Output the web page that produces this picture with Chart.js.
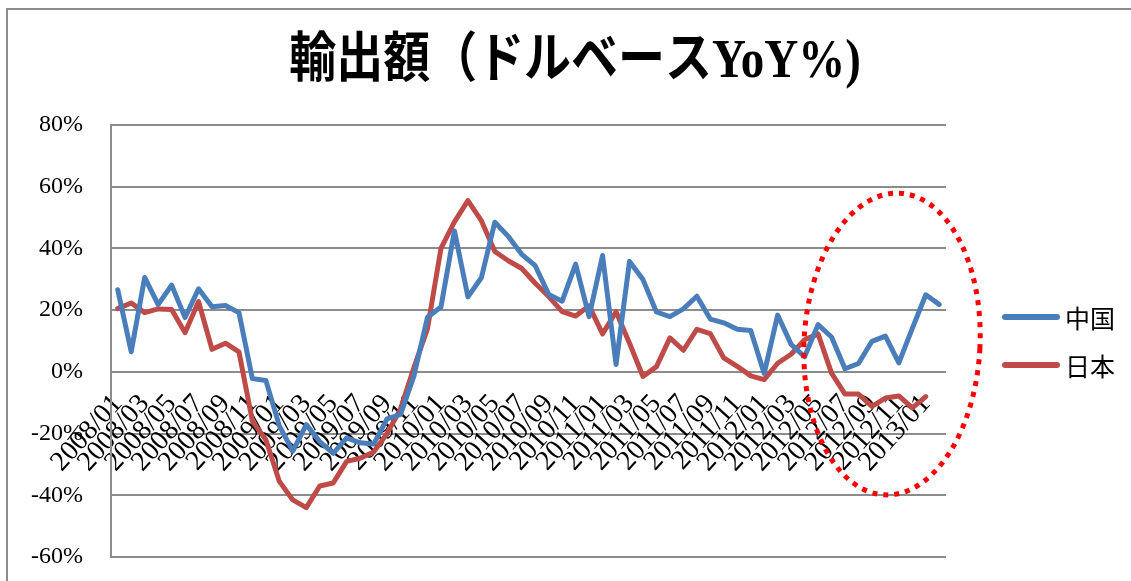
<!DOCTYPE html>
<html lang="ja">
<head>
<meta charset="utf-8">
<title>輸出額（ドルベースYoY%）</title>
<script src="https://cdn.jsdelivr.net/npm/chart.js@4.4.0/dist/chart.umd.min.js"></script>
<style>
    html, body { margin: 0; padding: 0; background: #fff; }
    #chartBox { position: relative; width: 1131px; height: 581px; }
</style>
</head>
<body>
<div id="chartBox"><canvas id="exportChart"></canvas></div>
<script>
// 月次（2008/01〜2013/02）
const months = [
    '2008/01', '2008/02', '2008/03', '2008/04', '2008/05', '2008/06', '2008/07', '2008/08', '2008/09', '2008/10', '2008/11', '2008/12',
    '2009/01', '2009/02', '2009/03', '2009/04', '2009/05', '2009/06', '2009/07', '2009/08', '2009/09', '2009/10', '2009/11', '2009/12',
    '2010/01', '2010/02', '2010/03', '2010/04', '2010/05', '2010/06', '2010/07', '2010/08', '2010/09', '2010/10', '2010/11', '2010/12',
    '2011/01', '2011/02', '2011/03', '2011/04', '2011/05', '2011/06', '2011/07', '2011/08', '2011/09', '2011/10', '2011/11', '2011/12',
    '2012/01', '2012/02', '2012/03', '2012/04', '2012/05', '2012/06', '2012/07', '2012/08', '2012/09', '2012/10', '2012/11', '2012/12',
    '2013/01', '2013/02'
];

// 中国 輸出額 前年比（%）
const chinaYoY = [
    26.6, 6.5, 30.6, 21.8, 28.1, 17.6, 26.9, 21.1, 21.5, 19.2, -2.2, -2.8,
    -17.5, -25.7, -17.1, -22.6, -26.4, -21.4, -23.0, -23.4, -15.2, -13.8, -1.2, 17.7,
    21.0, 45.7, 24.3, 30.5, 48.5, 43.9, 38.1, 34.4, 25.1, 22.9, 34.9, 17.9,
    37.7, 2.4, 35.8, 29.9, 19.4, 17.9, 20.4, 24.5, 17.1, 15.9, 13.8, 13.4,
    -0.5, 18.4, 8.9, 4.9, 15.3, 11.3, 1.0, 2.7, 9.9, 11.6, 2.9, 14.1,
    25.0, 21.8
];

// 日本 輸出額 前年比（%）、2013/01まで
const japanYoY = [
    20.5, 22.3, 19.2, 20.4, 20.2, 12.7, 22.8, 7.3, 9.3, 6.5, -16.0, -22.0,
    -35.5, -41.5, -44.0, -37.0, -36.0, -29.0, -28.0, -26.0, -20.0, -12.0, 1.5, 14.0,
    40.0, 48.6, 55.5, 49.0, 39.0, 36.0, 33.5, 28.7, 24.4, 19.5, 18.1, 21.4,
    12.3, 19.5, 9.3, -1.5, 1.7, 11.0, 7.0, 13.8, 12.4, 4.5, 1.8, -1.3,
    -2.5, 2.8, 5.7, 10.4, 12.3, -0.4, -7.2, -7.2, -11.2, -8.5, -7.8, -11.7,
    -8.0
];

// 縦軸の範囲と目盛り
const yMin = -60;
const yMax = 80;
const yStep = 20;

const seriesNames = ['中国', '日本'];
const seriesColors = ['#4a7ebb', '#be4b48'];

const gridGray = '#8c8c8c';
const serifFont = '"Liberation Serif", "Times New Roman", serif';

// 枠・タイトル・凡例・強調の楕円
const decorPlugin = {
    id: 'decor',
    beforeDraw(chart) {
        const ctx = chart.ctx;
        ctx.save();
        ctx.fillStyle = '#fff';
        ctx.fillRect(0, 0, chart.width, chart.height);
        ctx.strokeStyle = gridGray;
        ctx.lineWidth = 2;
        ctx.strokeRect(7, 9, chart.width + 50, chart.height + 50);
        ctx.restore();
    },
    afterDraw(chart) {
        const ctx = chart.ctx;

        // タイトル
        ctx.save();
        ctx.translate(575, 63);
        ctx.scale(0.87, 1);
        ctx.fillStyle = '#000';
        ctx.font = 'bold 54px "Liberation Serif", "Noto Sans CJK JP"';
        ctx.textAlign = 'center';
        ctx.textBaseline = 'middle';
        ctx.fillText('輸出額（ドルベースYoY%)', 0, 0);
        ctx.restore();

        // 凡例
        ctx.save();
        chart.data.datasets.forEach((ds, i) => {
            const y = 317 + i * 48;
            ctx.strokeStyle = ds.borderColor;
            ctx.lineWidth = 6;
            ctx.lineCap = 'round';
            ctx.beginPath();
            ctx.moveTo(1005, y);
            ctx.lineTo(1057, y);
            ctx.stroke();
            ctx.fillStyle = '#000';
            ctx.font = '25px "Noto Sans CJK JP"';
            ctx.textAlign = 'left';
            ctx.textBaseline = 'middle';
            ctx.fillText(ds.label, 1065, y + 1);
        });
        ctx.restore();

        // 直近の動きを囲む点線の楕円
        ctx.save();
        ctx.strokeStyle = '#ff0000';
        ctx.lineWidth = 5;
        ctx.setLineDash([5, 6]);
        ctx.beginPath();
        ctx.ellipse(892, 344, 88, 151, 0.05, 0, Math.PI * 2);
        ctx.stroke();
        ctx.restore();
    }
};

const ctx = document.getElementById('exportChart');

new Chart(ctx, {
    type: 'line',
    data: {
        labels: months,
        datasets: [
            {
                label: seriesNames[0],
                data: chinaYoY,
                borderColor: seriesColors[0],
                backgroundColor: seriesColors[0],
                borderWidth: 5,
                pointRadius: 0,
                tension: 0,
                borderJoinStyle: 'round',
                borderCapStyle: 'round'
            },
            {
                label: seriesNames[1],
                data: japanYoY,
                borderColor: seriesColors[1],
                backgroundColor: seriesColors[1],
                borderWidth: 5,
                pointRadius: 0,
                tension: 0,
                borderJoinStyle: 'round',
                borderCapStyle: 'round'
            }
        ]
    },
    options: {
        responsive: true,
        maintainAspectRatio: false,
        devicePixelRatio: 1,
        animation: false,
        layout: {
            padding: { left: 0, top: 125, right: 185, bottom: 24 }
        },
        plugins: {
            legend: { display: false },
            title: { display: false },
            tooltip: { enabled: false }
        },
        scales: {
            x: {
                type: 'category',
                offset: true,
                position: { y: 0 },
                grid: { display: false, drawTicks: false },
                border: { display: false },
                ticks: {
                    autoSkip: false,
                    minRotation: 48,
                    maxRotation: 48,
                    padding: 16,
                    color: '#000',
                    font: { family: serifFont, size: 28 },
                    callback: function(value, index) {
                        return index % 2 === 0 ? months[index] : '';
                    }
                }
            },
            y: {
                min: yMin,
                max: yMax,
                afterFit: function(scale) {
                    scale.width = 111;
                    // 目盛りの余白分だけ下端が持ち上がらないようにする
                    scale.paddingTop = 12;
                    scale.paddingBottom = 12;
                },
                grid: {
                    color: gridGray,
                    lineWidth: 2,
                    drawTicks: false
                },
                border: { display: true, color: gridGray, width: 2 },
                ticks: {
                    stepSize: yStep,
                    padding: 28,
                    color: '#000',
                    font: { family: serifFont, size: 24 },
                    callback: function(value) {
                        return value + '%';
                    }
                }
            }
        }
    },
    plugins: [decorPlugin]
});
</script>
</body>
</html>
